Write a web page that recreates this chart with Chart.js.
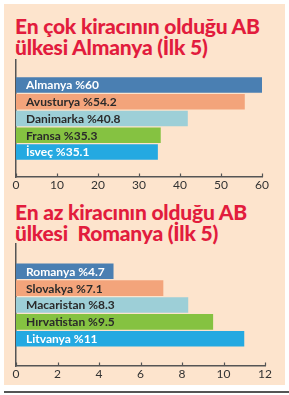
<!DOCTYPE html>
<html><head><meta charset="utf-8">
<script src="https://cdn.jsdelivr.net/npm/chart.js@4/dist/chart.umd.min.js"></script>
<style>
html,body{margin:0;padding:0;background:#fff;width:289px;height:395px;overflow:hidden}
#box{position:absolute;left:4px;top:4px;width:281px;height:381px;background:#fde4cd}
.t{position:absolute;left:15px;margin:0;font-family:Lato,sans-serif;font-weight:900;color:#e21c3d;font-size:21px;line-height:21px;white-space:pre;letter-spacing:-0.2px}
#rule{position:absolute;left:4px;top:391px;width:285px;height:1.5px;background:#555}
canvas{position:absolute;left:0}
</style></head><body>
<div id="box"></div>
<p class="t" id="t1" style="top:15px">En çok kiracının olduğu AB
ülkesi Almanya (İlk 5)</p>
<p class="t" id="t2" style="top:201px">En az kiracının olduğu AB
ülkesi  Romanya (İlk 5)</p>
<div id="rule"></div>
<div style="position:absolute;left:0;top:58px;width:289px;height:137px"><canvas id="c1"></canvas></div>
<div style="position:absolute;left:0;top:242px;width:289px;height:142px"><canvas id="c2"></canvas></div>
<script>
// Chart 1 data
const cats1 = ["Almanya", "Avusturya", "Danimarka", "Fransa", "İsveç"];
const labels1 = ["%60", "%54.2", "%40.8", "%35.3", "%35.1"];
const values1 = [60, 55.8, 41.9, 35.3, 34.6];
const ticks1 = [0, 10, 20, 30, 40, 50, 60];
// Chart 2 data
const cats2 = ["Romanya", "Slovakya", "Macaristan", "Hırvatistan", "Litvanya"];
const labels2 = ["%4.7", "%7.1", "%8.3", "%9.5", "%11"];
const values2 = [4.7, 7.1, 8.3, 9.5, 11];
const ticks2 = [0, 2, 4, 6, 8, 10, 12];

const barColors = ["#4a7fb2", "#f3a47b", "#9dcfd7", "#85c241", "#24a9e1"];
const textColors = ["#ffffff", "#2a2a2a", "#2a2a2a", "#2a2a2a", "#ffffff"];

const inBarLabels = {
  id: 'inBarLabels',
  afterDatasetsDraw(chart, args, opts) {
    const ctx = chart.ctx;
    const meta = chart.getDatasetMeta(0);
    ctx.save();
    ctx.font = "bold 12px Lato, sans-serif";
    ctx.textBaseline = "middle";
    ctx.textAlign = "left";
    meta.data.forEach((bar, i) => {
      ctx.fillStyle = textColors[i];
      ctx.fillText(opts.cats[i] + " " + opts.labels[i], bar.base + 10, bar.y + 0.5);
    });
    ctx.restore();
  }
};
const upTicks = {
  id: 'upTicks',
  afterDraw(chart) {
    const ctx = chart.ctx, xs = chart.scales.x, y0 = chart.chartArea.bottom;
    ctx.save();
    ctx.strokeStyle = "#555";
    ctx.lineWidth = 1.2;
    xs.ticks.forEach(t => {
      const px = Math.round(xs.getPixelForValue(t.value)) + 0.5;
      ctx.beginPath(); ctx.moveTo(px, y0); ctx.lineTo(px, y0 - 3.5); ctx.stroke();
    });
    ctx.restore();
  }
};

function make(id, cats, labels, values, ticks, ymin, ymax, padTop, padRight) {
  return new Chart(document.getElementById(id), {
    type: 'bar',
    data: {
      datasets: [{
        data: values.map((v, i) => ({x: v, y: i})),
        backgroundColor: barColors,
        borderWidth: 0,
        barPercentage: 0.93,
        categoryPercentage: 1
      }]
    },
    options: {
      indexAxis: 'y',
      responsive: true,
      maintainAspectRatio: false,
      animation: false,
      layout: {padding: {top: padTop, right: padRight, left: 0, bottom: 0}},
      plugins: {legend: {display: false}, tooltip: {enabled: false},
        inBarLabels: {cats: cats, labels: labels}},
      scales: {
        y: {
          type: 'linear', min: ymin, max: ymax, reverse: true,
          grid: {display: false, drawTicks: false},
          border: {display: true, color: "#555", width: 1.5},
          ticks: {display: false},
          afterFit: s => { s.width = 16; }
        },
        x: {
          type: 'linear', min: ticks[0], max: ticks[ticks.length - 1],
          afterBuildTicks: s => { s.ticks = ticks.map(v => ({value: v})); },
          grid: {display: false, drawTicks: false},
          border: {display: true, color: "#555", width: 1.5},
          ticks: {color: "#333", font: {family: "Lato, sans-serif", size: 12}, padding: 1},
          afterFit: s => { s.height = 18; }
        }
      }
    },
    plugins: [inBarLabels, upTicks]
  });
}
make('c1', cats1, labels1, values1, ticks1, -1, 5, 2, 27);
make('c2', cats2, labels2, values2, ticks2, -1.1, 5.1, 2, 24);
</script>
</body></html>
